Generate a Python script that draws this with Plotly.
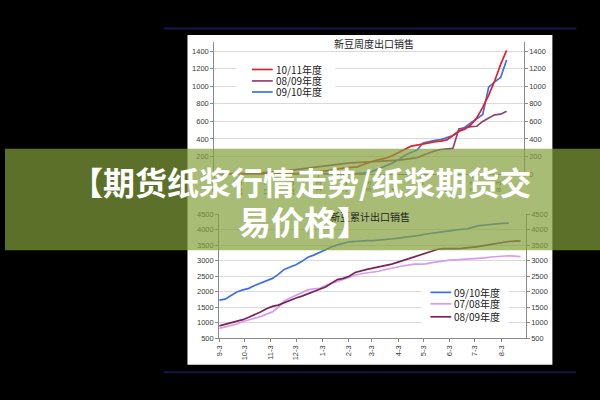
import plotly.graph_objects as go
import pandas as pd

# ---------------- data ----------------
weeks_top = pd.date_range("2009-09-03", periods=50, freq="7D")
weeks_bot = pd.date_range("2009-09-03", periods=52, freq="7D")

month_ticks = ["2009-09-03", "2009-10-03", "2009-11-03", "2009-12-03", "2010-01-03", "2010-02-03",
               "2010-03-03", "2010-04-03", "2010-05-03", "2010-06-03", "2010-07-03", "2010-08-03"]
month_labels = ["9-3", "10-3", "11-3", "12-3", "1-3", "2-3", "3-3", "4-3", "5-3", "6-3", "7-3", "8-3"]

# top chart: 新豆周度出口销售
top_1011 = [0, 0, 0, 0, 0, 0, 0, 0, 0, 0,
            0, 0, 0, 0, 2, 5, 10, 18, 28, 40,
            52, 63, 70, 76, 82, 110, 135, 155, 170, 186,
            215, 250, 290, 318, 330, 340, 355, 370, 375, 390,
            440, 490, 510, 560, 640, 760, 900, 1060, 1250, 1410]
top_0809 = [0, 0, 1, 2, 3, 5, 7, 10, 14, 18,
            24, 30, 38, 46, 55, 63, 72, 80, 90, 100,
            110, 118, 122, 128, 132, 138, 140, 142, 145, 148,
            150, 158, 168, 178, 186, 215, 240, 265, 280, 288,
            292, 515, 530, 541, 545, 600, 640, 675, 682, 717]
top_0910 = [0, 0, 0, 0, 0, 0, 0, 0, 0, 0,
            0, 0, 0, 0, 0, 0, 0, 0, 0, 2,
            3, 4, 5, 6, 8, 10, 18, 45, 75, 100,
            130, 170, 215, 245, 275, 355, 372, 385, 392, 420,
            440, 485, 530, 580, 630, 680, 990, 1050, 1100, 1300]

# bottom chart: 新豆累计出口销售
bot_0910 = [1730, 1760, 1880, 1990, 2060, 2110, 2200, 2280, 2340, 2430,
            2560, 2720, 2800, 2870, 2980, 3110, 3180, 3270, 3340, 3440,
            3510, 3570, 3610, 3620, 3640, 3650, 3650, 3660, 3690, 3700,
            3720, 3740, 3770, 3790, 3820, 3860, 3880, 3900, 3940, 3960,
            3990, 4010, 4030, 4080, 4130, 4150, 4180, 4190, 4200, 4210]
bot_0708 = [820, 870, 920, 960, 1040, 1090, 1150, 1200, 1280, 1350,
            1500, 1700, 1800, 1880, 1960, 2060, 2090, 2110, 2200, 2280,
            2330, 2400, 2460, 2530, 2580, 2600, 2630, 2660, 2710, 2740,
            2790, 2830, 2870, 2890, 2890, 2900, 2940, 2970, 3000, 3020,
            3030, 3040, 3050, 3070, 3080, 3090, 3120, 3140, 3160, 3160,
            3150, 3130]
bot_0809 = [900, 950, 990, 1050, 1100, 1180, 1260, 1350, 1450, 1530,
            1570, 1650, 1730, 1800, 1860, 1940, 2020, 2080, 2150, 2280,
            2390, 2430, 2500, 2620, 2680, 2720, 2760, 2800, 2820, 2880,
            2940, 3000, 3060, 3130, 3200, 3260, 3320, 3370, 3390, 3380,
            3390, 3400, 3410, 3440, 3460, 3490, 3520, 3570, 3600, 3620,
            3630, 3630]

top_ticks = [0, 200, 400, 600, 800, 1000, 1200, 1400]
bot_ticks = [500, 1000, 1500, 2000, 2500, 3000, 3500, 4000, 4500]

top_title = "新豆周度出口销售"
bot_title = "新豆累计出口销售"
banner_line1 = "【期货纸浆行情走势/纸浆期货交"
banner_line2 = "易价格】"

# ---------------- styling ----------------
W, H = 600, 400
def px(x): return x / W
def py(y): return 1 - y / H

RED = "#e3202b"
BLUE = "#3d6fe6"
MAUVE = "#93406f"
MAROON = "#7b2352"
LAVENDER = "#d49cf5"
AXC = "#8a8a8a"
GRID = "#d9d9d9"
TICKFONT = dict(family="Liberation Sans, Arial", size=7.5, color="#3a3a3a")
CJK = "Noto Sans CJK SC"
X_RANGE = ["2009-09-03", "2010-09-01"]

fig = go.Figure()

def line(x, y, color, xa, ya, name):
    fig.add_trace(go.Scatter(x=x, y=y, mode="lines", name=name, xaxis=xa, yaxis=ya,
                             line=dict(color=color, width=1.7), showlegend=False,
                             hoverinfo="skip"))

line(weeks_top, top_0809, MAUVE, "x", "y", "08/09年度")
line(weeks_top, top_0910, BLUE, "x", "y", "09/10年度")
line(weeks_top, top_1011, RED, "x", "y", "10/11年度")
# invisible helper so that the right-hand axis is drawn
fig.add_trace(go.Scatter(x=weeks_top, y=top_1011, mode="lines", xaxis="x", yaxis="y3",
                         line=dict(width=0), opacity=0, showlegend=False, hoverinfo="skip"))

line(weeks_bot, bot_0708, LAVENDER, "x2", "y2", "07/08年度")
line(weeks_bot, bot_0809, MAROON, "x2", "y2", "08/09年度")
line(weeks_bot[:len(bot_0910)], bot_0910, BLUE, "x2", "y2", "09/10年度")
fig.add_trace(go.Scatter(x=weeks_bot, y=bot_0809, mode="lines", xaxis="x2", yaxis="y4",
                         line=dict(width=0), opacity=0, showlegend=False, hoverinfo="skip"))

xcommon = dict(type="date", range=X_RANGE, tickvals=month_ticks, ticktext=month_labels,
               tickangle=-90, showgrid=False, showline=True, linecolor=AXC, linewidth=1,
               ticks="outside", ticklen=3, tickcolor=AXC, tickfont=TICKFONT, zeroline=False,
               fixedrange=True)
ycommon = dict(showline=True, linecolor=AXC, linewidth=1, ticks="outside", ticklen=3,
               tickcolor=AXC, tickfont=TICKFONT, zeroline=False, fixedrange=True)

fig.update_layout(
    width=W, height=H,
    margin=dict(l=0, r=0, t=0, b=0),
    paper_bgcolor="#000000",
    plot_bgcolor="rgba(0,0,0,0)",
    xaxis=dict(domain=[px(211), px(523)], anchor="y", **xcommon),
    yaxis=dict(domain=[py(174), py(39.3)], anchor="x", range=[0, 1500], tickvals=top_ticks,
               showgrid=True, gridcolor=GRID, gridwidth=1, **ycommon),
    yaxis3=dict(overlaying="y", side="right", anchor="x", range=[0, 1500], tickvals=top_ticks,
                showgrid=False, **ycommon),
    xaxis2=dict(domain=[px(216), px(525)], anchor="y2", **xcommon),
    yaxis2=dict(domain=[py(342), py(215)], anchor="x2", range=[500, 4500], tickvals=bot_ticks,
                showgrid=True, gridcolor=GRID, gridwidth=1, **ycommon),
    yaxis4=dict(overlaying="y2", side="right", anchor="x2", range=[500, 4500], tickvals=bot_ticks,
                showgrid=False, **ycommon),
)

shapes = []
# white card + dark rules
shapes.append(dict(type="rect", xref="paper", yref="paper", x0=px(184), x1=px(552),
                   y0=py(369), y1=py(31.7), fillcolor="white", line=dict(width=0), layer="below"))
for yy in (25, 376.7):
    shapes.append(dict(type="line", xref="paper", yref="paper", x0=px(160), x1=px(576),
                       y0=py(yy), y1=py(yy), line=dict(color="#16164c", width=2), layer="below"))
# legend boxes (hide grid lines behind the keys)
shapes.append(dict(type="rect", xref="paper", yref="paper", x0=px(233), x1=px(333),
                   y0=py(97), y1=py(58), fillcolor="white", line=dict(width=0), layer="above"))
shapes.append(dict(type="rect", xref="paper", yref="paper", x0=px(420), x1=px(508),
                   y0=py(329), y1=py(286), fillcolor="white", line=dict(width=0), layer="above"))

annotations = []
def legend_item(x0, x1, y, color, text):
    shapes.append(dict(type="line", xref="paper", yref="paper", x0=px(x0), x1=px(x1),
                       y0=py(y), y1=py(y), line=dict(color=color, width=1.7), layer="above"))
    annotations.append(dict(xref="paper", yref="paper", x=px(x1 + 1), y=py(y), text=text,
                            showarrow=False, xanchor="left", yanchor="middle",
                            font=dict(family=CJK, size=10, color="#222222")))

legend_item(249, 270, 67, RED, "10/11年度")
legend_item(249, 270, 78.7, MAUVE, "08/09年度")
legend_item(249, 270, 90, BLUE, "09/10年度")
legend_item(429, 450, 295, BLUE, "09/10年度")
legend_item(429, 450, 306.7, LAVENDER, "07/08年度")
legend_item(429, 450, 320, MAROON, "08/09年度")

annotations.append(dict(xref="paper", yref="paper", x=px(372), y=py(40), text=top_title,
                        showarrow=False, xanchor="center", yanchor="middle",
                        font=dict(family=CJK, size=10, color="#222222")))
annotations.append(dict(xref="paper", yref="paper", x=px(368), y=py(217), text=bot_title,
                        showarrow=False, xanchor="center", yanchor="middle",
                        font=dict(family=CJK, size=10, color="#222222")))

# translucent green banner
shapes.append(dict(type="rect", xref="paper", yref="paper", x0=0, x1=1, y0=py(252), y1=py(148),
                   fillcolor="rgba(132,160,58,0.70)", line=dict(width=0), layer="above"))

annotations.append(dict(xref="paper", yref="paper", x=px(298), y=py(181.5), text=banner_line1,
                        showarrow=False, xanchor="center", yanchor="middle",
                        font=dict(family=CJK, size=32, color="white", weight="bold")))
annotations.append(dict(xref="paper", yref="paper", x=px(302), y=py(221.5), text=banner_line2,
                        showarrow=False, xanchor="center", yanchor="middle",
                        font=dict(family=CJK, size=33, color="white", weight="bold")))

fig.update_layout(shapes=shapes, annotations=annotations)
fig.write_html("out.html", config={"displayModeBar": False},
               post_script=("document.documentElement.style.background='#000';"
                            "document.documentElement.style.overflow='hidden';"
                            "document.body.style.margin='0';"
                            "document.body.style.background='#000';"))
